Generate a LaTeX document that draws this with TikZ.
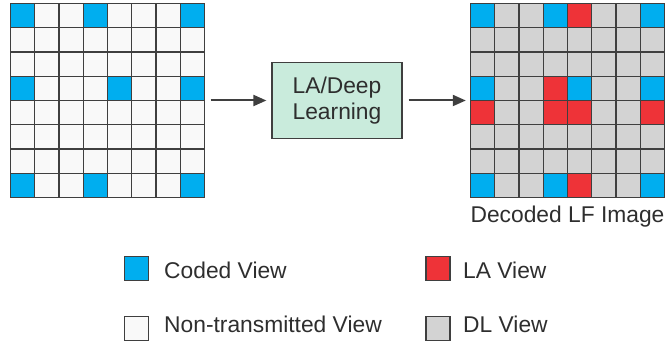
\documentclass[tikz,border=0pt]{standalone}
\usepackage{fontspec}
\setmainfont{Liberation Sans}
\usepackage{xcolor}
\definecolor{colCoded}{HTML}{00AEEF}
\definecolor{colLA}{HTML}{EE3338}
\definecolor{colDL}{HTML}{D3D3D3}
\definecolor{colNT}{HTML}{F9F9F9}
\definecolor{colBox}{HTML}{C9EBDC}
\definecolor{colGrid}{HTML}{3F3F3F}
\definecolor{colText}{HTML}{2E2E2E}
\usetikzlibrary{arrows.meta, positioning, fit}

\begin{document}
\begin{tikzpicture}[
		x=1pt, y=-1pt,
		cell/.style={draw=colGrid, line width=1.3pt, minimum size=24.25pt, inner sep=0pt, outer sep=0pt},
		key/.style={draw=colGrid, line width=1.2pt, minimum size=24pt, inner sep=0pt},
		lbl/.style={font=\fontsize{22.8}{25.5}\selectfont, text=colText, inner sep=0pt},
		arr/.style={->, line width=2pt, colGrid},
		>={Triangle[length=13pt, width=11pt]}
	]
		\useasboundingbox (0,0) rectangle (665,342);

		% ===== LEFT: coded LF image =====
		\foreach \r in {0,...,7}
			\foreach \c in {0,...,7}
				\node[cell, fill=colNT] (L-\r-\c) at ({22.625+24.25*\c}, {15.625+24.25*\r}) {};
		\foreach \r/\c in {0/0,0/3,0/7,3/0,3/4,3/7,7/0,7/3,7/7}
			\node[cell, fill=colCoded] at (L-\r-\c) {};
		\node[fit=(L-0-0)(L-7-7), inner sep=0pt] (lgrid) {};

		% ===== MIDDLE: reconstruction =====
		\node[lbl, draw=colGrid, line width=1.2pt, fill=colBox, align=center,
			  minimum width=130pt, minimum height=76pt] (dl) at (337, 100.5) {LA/Deep\\Learning};

		% ===== RIGHT: decoded LF image =====
		\foreach \r in {0,...,7}
			\foreach \c in {0,...,7}
				\node[cell, fill=colDL] (R-\r-\c) at ({482.625+24.25*\c}, {15.625+24.25*\r}) {};
		\foreach \r/\c in {0/0,0/3,0/7,3/0,3/4,3/7,7/0,7/3,7/7}
			\node[cell, fill=colCoded] at (R-\r-\c) {};
		\foreach \r/\c in {0/4,3/3,4/0,4/3,4/4,4/7,7/4}
			\node[cell, fill=colLA] at (R-\r-\c) {};
		\node[fit=(R-0-0)(R-7-7), inner sep=0pt] (rgrid) {};
		\node[lbl, anchor=base] (cap) at (567.5, 223) {Decoded LF Image};

		% Arrows
		\draw[arr, shorten <=6pt, shorten >=5pt] (lgrid) -- (dl);
		\draw[arr, shorten <=6pt, shorten >=4.5pt] (dl) -- (rgrid);

		% ===== LEGEND =====
		\node[key, fill=colCoded] (kCoded) at (136.5, 268.5) {};
		\node[key, fill=colNT] (kNT) at (136.5, 328.5) {};
		\node[key, fill=colLA] (kLA) at (438, 268.5) {};
		\node[key, fill=colDL] (kDL) at (438, 328.5) {};
		\node[lbl, anchor=base west] (tCoded) at (164, 279) {Coded View};
		\node[lbl, anchor=base west] (tNT) at (164, 333) {Non-transmitted View};
		\node[lbl, anchor=base west] (tLA) at (463, 279) {LA View};
		\node[lbl, anchor=base west] (tDL) at (463, 333) {DL View};
	\end{tikzpicture}
\end{document}
